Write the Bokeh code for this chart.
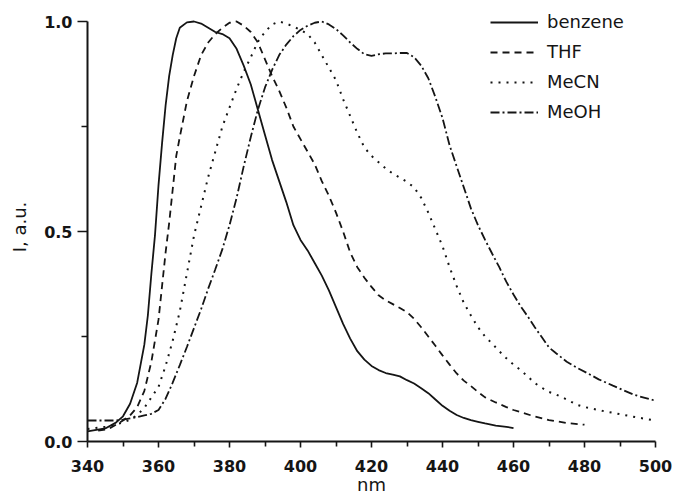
from bokeh.plotting import figure
from bokeh.models import FixedTicker, Legend, LegendItem, Range1d, NumeralTickFormatter, LinearAxis
from bokeh.embed import file_html
from bokeh.resources import INLINE

# ---- data ----
benzene_nm = [340, 345, 348, 350, 352, 354, 356, 357, 358, 359, 360, 361, 362, 363, 364, 365, 366, 368, 370, 372,
              374, 376, 378, 380, 382, 384, 386, 388, 390, 392, 394, 396, 398, 400, 402, 404, 406, 408, 410, 412,
              414, 416, 418, 420, 422, 424, 426, 428, 430, 432, 434, 436, 438, 440, 442, 444, 446, 448, 450, 452,
              455, 458, 460]
benzene_i = [0.024, 0.031, 0.045, 0.06, 0.09, 0.14, 0.23, 0.30, 0.40, 0.49, 0.61, 0.71, 0.80, 0.87, 0.92, 0.96, 0.985, 0.998, 1.0, 0.995,
             0.985, 0.975, 0.97, 0.96, 0.935, 0.895, 0.85, 0.79, 0.73, 0.67, 0.62, 0.57, 0.515, 0.48, 0.455, 0.425, 0.395, 0.36, 0.32, 0.28,
             0.245, 0.215, 0.195, 0.18, 0.17, 0.163, 0.159, 0.155, 0.146, 0.138, 0.127, 0.115, 0.1, 0.085, 0.073, 0.063, 0.056, 0.051, 0.047, 0.043,
             0.038, 0.035, 0.032]

thf_nm = [343, 346, 348, 350, 352, 354, 356, 358, 359, 360, 361, 362, 363, 364, 365, 366, 368, 370, 372, 374,
          376, 378, 380, 382, 384, 386, 388, 390, 392, 394, 396, 398, 400, 402, 404, 406, 408, 410, 412, 414,
          416, 418, 420, 422, 424, 426, 428, 430, 432, 434, 436, 438, 440, 442, 444, 446, 448, 450, 452, 455,
          458, 460, 465, 470, 475, 480]
thf_i = [0.026, 0.03, 0.04, 0.05, 0.062, 0.082, 0.12, 0.19, 0.24, 0.29, 0.37, 0.45, 0.52, 0.60, 0.68, 0.725, 0.81, 0.87, 0.92, 0.95,
         0.97, 0.985, 0.997, 1.0, 0.99, 0.975, 0.95, 0.91, 0.87, 0.835, 0.795, 0.75, 0.72, 0.69, 0.66, 0.62, 0.585, 0.545, 0.50, 0.45,
         0.415, 0.39, 0.368, 0.348, 0.336, 0.327, 0.318, 0.308, 0.292, 0.272, 0.25, 0.228, 0.205, 0.183, 0.162, 0.145, 0.132, 0.118, 0.105, 0.093,
         0.082, 0.075, 0.062, 0.051, 0.044, 0.04]

mecn_nm = [340, 345, 350, 352, 354, 356, 358, 360, 362, 364, 366, 368, 370, 372, 374, 376, 378, 380, 382, 384,
           386, 388, 390, 392, 394, 396, 398, 400, 402, 404, 406, 408, 410, 412, 414, 416, 418, 420, 422, 424,
           426, 428, 430, 432, 434, 436, 438, 440, 442, 444, 446, 448, 450, 452, 454, 456, 458, 460, 462, 464,
           466, 468, 470, 472, 475, 478, 480, 485, 490, 495, 500]
mecn_i = [0.03, 0.035, 0.045, 0.052, 0.063, 0.08, 0.105, 0.13, 0.18, 0.24, 0.31, 0.40, 0.49, 0.56, 0.63, 0.69, 0.75, 0.795, 0.84, 0.88,
          0.915, 0.952, 0.975, 0.993, 1.0, 0.995, 0.988, 0.98, 0.97, 0.95, 0.92, 0.89, 0.86, 0.815, 0.775, 0.735, 0.70, 0.68, 0.665, 0.65,
          0.638, 0.628, 0.618, 0.605, 0.58, 0.545, 0.505, 0.465, 0.415, 0.37, 0.33, 0.30, 0.272, 0.25, 0.233, 0.215, 0.198, 0.183, 0.17, 0.155,
          0.139, 0.128, 0.118, 0.112, 0.1, 0.087, 0.082, 0.073, 0.065, 0.057, 0.05]

meoh_nm = [340, 345, 348, 350, 352, 354, 356, 358, 360, 361, 362, 364, 366, 368, 370, 372, 374, 376, 378, 380,
           382, 384, 386, 388, 390, 392, 394, 396, 398, 400, 402, 404, 406, 408, 410, 412, 414, 416, 418, 420,
           422, 424, 426, 428, 430, 432, 434, 436, 438, 440, 442, 444, 446, 448, 450, 452, 454, 456, 458, 460,
           462, 464, 466, 468, 470, 472, 475, 478, 481, 484, 488, 491, 494, 497, 500]
meoh_i = [0.05, 0.05, 0.05, 0.052, 0.055, 0.058, 0.062, 0.066, 0.075, 0.088, 0.102, 0.14, 0.182, 0.225, 0.27, 0.315, 0.364, 0.41, 0.458, 0.515,
          0.58, 0.655, 0.725, 0.79, 0.843, 0.885, 0.92, 0.945, 0.965, 0.98, 0.99, 0.997, 1.0, 0.993, 0.982, 0.967, 0.95, 0.935, 0.922, 0.918,
          0.922, 0.924, 0.924, 0.925, 0.925, 0.915, 0.895, 0.865, 0.82, 0.77, 0.705, 0.655, 0.605, 0.555, 0.515, 0.48, 0.447, 0.415, 0.38, 0.35,
          0.322, 0.298, 0.272, 0.248, 0.224, 0.21, 0.19, 0.175, 0.162, 0.148, 0.133, 0.122, 0.111, 0.104, 0.097]

series_names = ["benzene", "THF", "MeCN", "MeOH"]
x_major_ticks = [340, 360, 380, 400, 420, 440, 460, 480, 500]
x_minor_ticks = [350, 370, 390, 410, 430, 450, 470, 490]
y_major_ticks = [0.0, 0.5, 1.0]
y_minor_ticks = [0.25, 0.75]
x_title = "nm"
y_title = "I, a.u."

INK = "#151515"
FONT = "DejaVu Sans"

# y range a little taller than the axis (axis itself is bounded 0..1) so the legend fits inside the frame
p = figure(width=675, height=498,
           min_border_left=87, min_border_right=20, min_border_top=12, min_border_bottom=57,
           x_range=Range1d(340, 500), y_range=Range1d(0, 1.0 + 9 / 420),
           x_axis_label=x_title,
           output_backend="svg", toolbar_location=None)
p.outline_line_color = None
p.xgrid.visible = False
p.ygrid.visible = False
p.background_fill_color = "white"
p.border_fill_color = "white"

r1 = p.line(benzene_nm, benzene_i, line_color=INK, line_width=1.8)
r2 = p.line(thf_nm, thf_i, line_color=INK, line_width=1.8, line_dash="7 5")
r3 = p.line(mecn_nm, mecn_i, line_color=INK, line_width=2, line_dash="2 6")
r4 = p.line(meoh_nm, meoh_i, line_color=INK, line_width=1.8, line_dash="9 3 2 3")

for ax in (p.xaxis[0], p.yaxis[0]):
    ax.axis_line_color = INK
    ax.axis_line_width = 2
    ax.major_tick_line_color = INK
    ax.major_tick_line_width = 1.6
    ax.minor_tick_line_color = INK
    ax.minor_tick_line_width = 1.6
    ax.major_tick_in = 0
    ax.minor_tick_in = 0
    ax.major_label_text_font = FONT
    ax.major_label_text_font_style = "bold"
    ax.major_label_text_font_size = "16px"
    ax.major_label_text_color = INK
    ax.axis_label_text_font = FONT
    ax.axis_label_text_font_style = "normal"
    ax.axis_label_text_font_size = "18px"
    ax.axis_label_text_color = INK

p.xaxis.ticker = FixedTicker(ticks=x_major_ticks, minor_ticks=x_minor_ticks)
p.xaxis.formatter = NumeralTickFormatter(format="0")
p.xaxis.major_tick_out = 6
p.xaxis.minor_tick_out = 5
p.xaxis.major_label_standoff = 12
p.xaxis.axis_label_standoff = -1

p.yaxis.ticker = FixedTicker(ticks=y_major_ticks, minor_ticks=y_minor_ticks)
p.yaxis.formatter = NumeralTickFormatter(format="0.0")
p.yaxis.bounds = (0, 1.0)
p.yaxis.major_tick_out = 10
p.yaxis.minor_tick_out = 6
p.yaxis.major_label_standoff = 5

# outer, line-less axis that only carries the y title (placed a little below the axis centre, as in the original)
title_axis = LinearAxis(axis_label=y_title, bounds=(0, 0.92), ticker=FixedTicker(ticks=[], minor_ticks=[]),
                        axis_line_alpha=0, major_tick_line_alpha=0, minor_tick_line_alpha=0,
                        major_tick_out=0, minor_tick_out=0, major_label_standoff=0,
                        major_label_text_font_size="1px", axis_label_standoff=12,
                        axis_label_text_font=FONT, axis_label_text_font_size="18px",
                        axis_label_text_font_style="normal", axis_label_text_color=INK)
p.add_layout(title_axis, "left")

legend = Legend(items=[LegendItem(label=n, renderers=[r]) for n, r in zip(series_names, [r1, r2, r3, r4])],
                location=(403, 319), border_line_color=None, background_fill_alpha=0,
                padding=0, margin=0, spacing=9, label_height=20, glyph_height=20, glyph_width=48,
                label_standoff=9, label_text_font=FONT, label_text_font_size="18px",
                label_text_color=INK)
p.add_layout(legend)

open("out.html", "w").write(file_html(p, INLINE))
